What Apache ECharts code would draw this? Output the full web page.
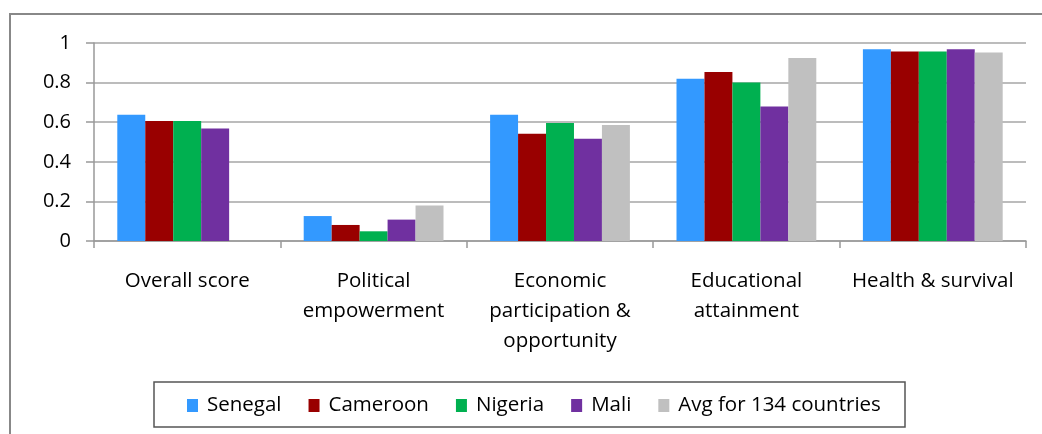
<!DOCTYPE html>
<html><head><meta charset="utf-8">
<script src="https://cdn.jsdelivr.net/npm/echarts@6/dist/echarts.min.js"></script>
<style>html,body{margin:0;padding:0;background:#fff}#c{width:1042px;height:434px}</style>
</head><body><div id="c"></div>
<script>
const categories = ['Overall score', 'Political\nempowerment', 'Economic\nparticipation &\nopportunity', 'Educational\nattainment', 'Health & survival'];
const senegal  = [0.638, 0.126, 0.638, 0.820, 0.968];
const cameroon = [0.606, 0.081, 0.542, 0.854, 0.957];
const nigeria  = [0.606, 0.049, 0.596, 0.800, 0.957];
const mali     = [0.568, 0.108, 0.517, 0.679, 0.968];
const avg134   = [null, 0.179, 0.586, 0.924, 0.952];
const seriesNames = ['Senegal', 'Cameroon', 'Nigeria', 'Mali', 'Avg for 134 countries'];
const colors = ['#3399FF', '#990000', '#00B050', '#7030A0', '#C0C0C0'];
const allData = [senegal, cameroon, nigeria, mali, avg134];

const FONT = 'Open Sans';
const chart = echarts.init(document.getElementById('c'), null, {renderer: 'canvas'});
chart.setOption({
  animation: false,
  textStyle: {fontFamily: FONT},
  graphic: [
    {type: 'rect', shape: {x: 10, y: 14, width: 1100, height: 500}, style: {fill: 'none', stroke: '#888', lineWidth: 2}, silent: true},
    {type: 'rect', shape: {x: 154, y: 382, width: 751, height: 45}, style: {fill: '#fff', stroke: '#555', lineWidth: 1.5}, silent: true, z: 0}
  ],
  legend: {
    left: 182, top: 390, itemWidth: 11, itemHeight: 13, itemGap: 27, icon: 'rect',
    textStyle: {fontFamily: FONT, fontSize: 20.5, color: '#000', padding: [0, 0, 0, 4]},
    data: seriesNames, z: 5
  },
  grid: {left: 94, right: 16, top: 43, bottom: 193, containLabel: false},
  xAxis: {
    type: 'category', data: categories,
    axisLine: {lineStyle: {color: '#999', width: 1.5}},
    axisTick: {show: true, length: 7, lineStyle: {color: '#999', width: 1.5}},
    axisLabel: {fontFamily: FONT, fontSize: 20.5, color: '#000', lineHeight: 30, margin: 25, interval: 0}
  },
  yAxis: {
    type: 'value', min: 0, max: 1, interval: 0.2,
    axisLine: {show: true, lineStyle: {color: '#999', width: 1.5}},
    axisTick: {show: true, length: 8, lineStyle: {color: '#999', width: 1.5}},
    axisLabel: {fontFamily: FONT, fontSize: 20, color: '#000', margin: 23},
    splitLine: {lineStyle: {color: '#A6A6A6', width: 1.5}}
  },
  series: allData.map((d, i) => ({
    name: seriesNames[i], type: 'bar', data: d,
    barGap: '0%', barCategoryGap: '25%',
    itemStyle: {color: colors[i]}
  }))
});
</script></body></html>
